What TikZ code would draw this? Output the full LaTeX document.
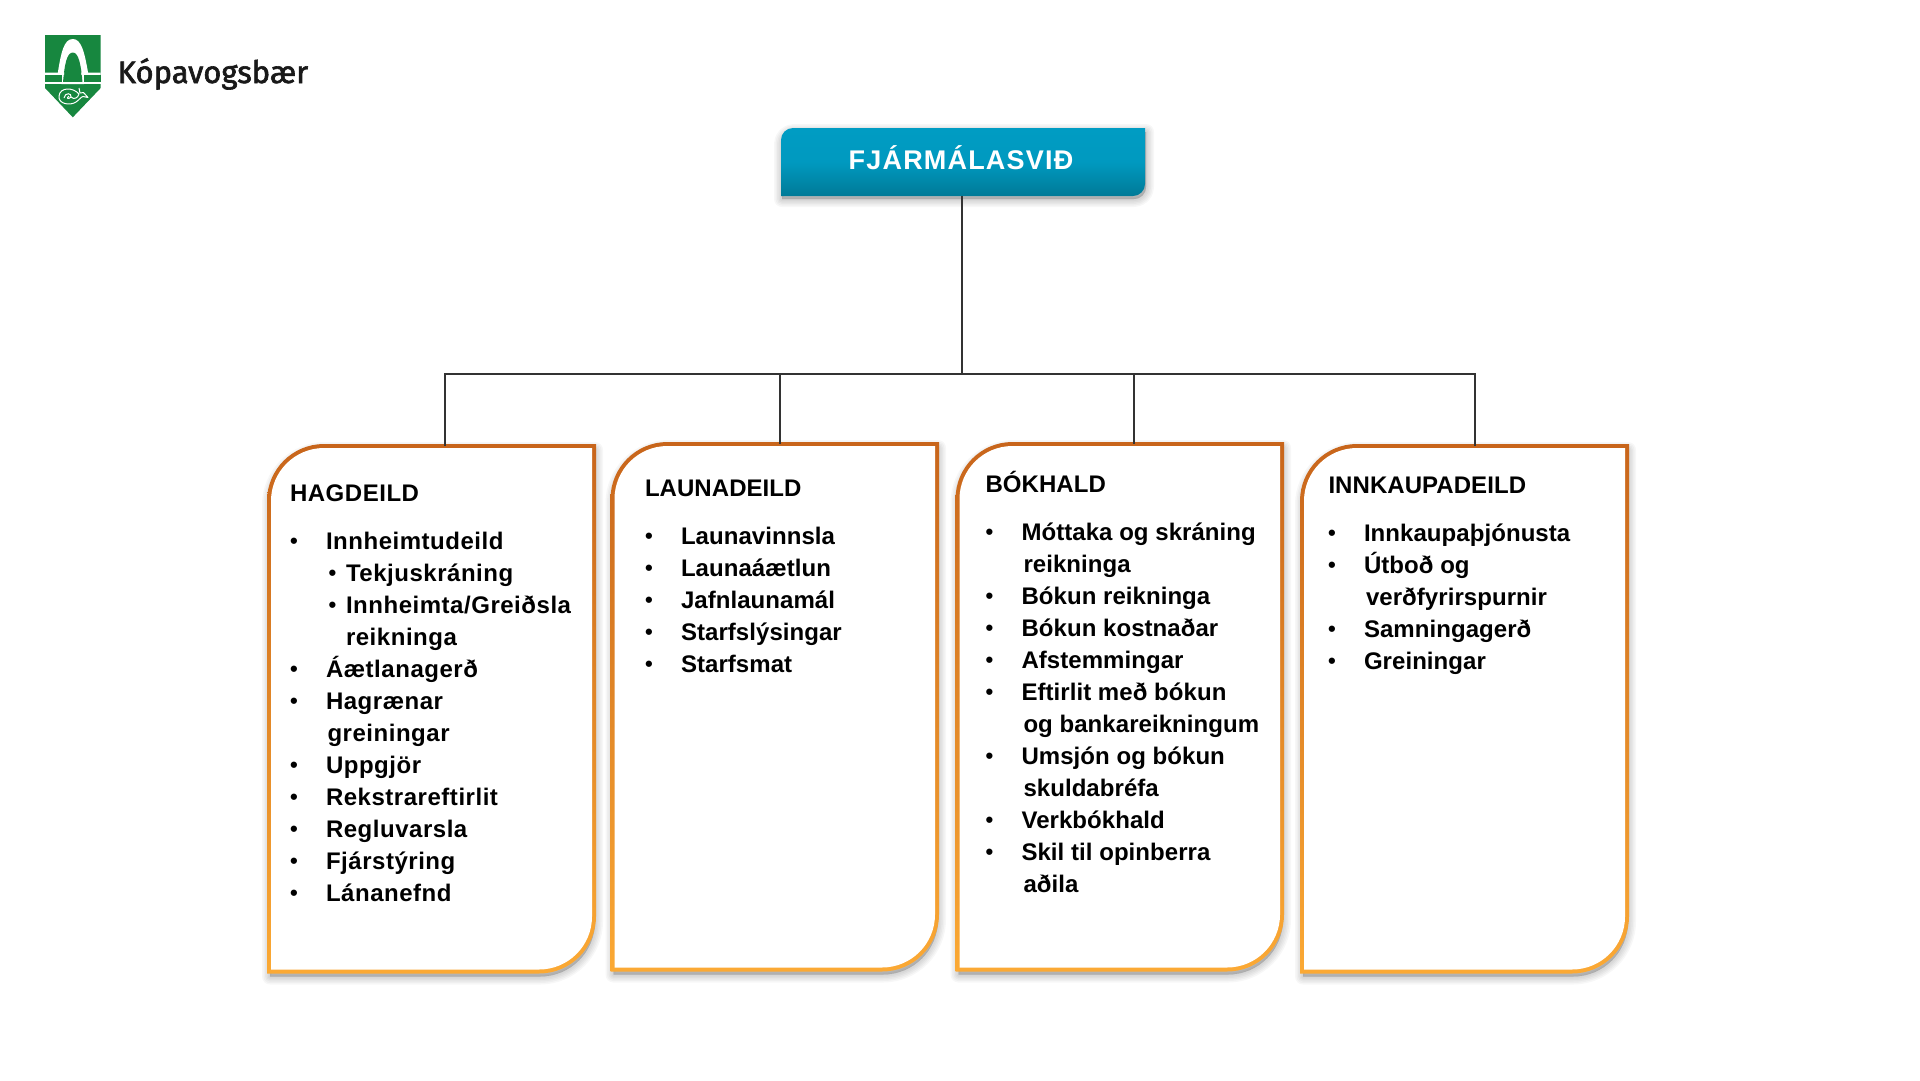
\documentclass[tikz,border=0pt]{standalone}
\usepackage{fontspec}
\setmainfont{Liberation Sans}
\newfontfamily\bodyf[LetterSpace=2.2]{Liberation Sans}
\newfontfamily\tightf[LetterSpace=0.25]{Liberation Sans}
\newfontfamily\titlef[LetterSpace=4.4]{Liberation Sans}
\newfontfamily\logof[FakeBold=2]{Fira Sans}
\definecolor{shieldgreen}{HTML}{17873F}
\definecolor{cardtop}{HTML}{C8651B}
\definecolor{cardbot}{HTML}{FBA934}
\definecolor{headtop}{HTML}{009CC3}
\definecolor{headbot}{HTML}{007A97}
\definecolor{wire}{HTML}{333333}
\tikzset{
  txt/.style={anchor=base west,inner sep=0pt,outer sep=0pt,font=\bodyf\bfseries\fontsize{24}{24}\selectfont,text=black},
  tgt/.style={anchor=base west,inner sep=0pt,outer sep=0pt,font=\tightf\bfseries\fontsize{24}{24}\selectfont,text=black},
  bul/.style={anchor=base,inner sep=0pt,outer sep=0pt,font=\bfseries\fontsize{22}{22}\selectfont,text=black},
  wireline/.style={draw=wire,line width=2pt},
}
% shape with top-left and bottom-right rounded
\newcommand{\twocorner}[5]{(#1,#4) [rounded corners=#5 pt] -- (#1,#2) [sharp corners] -- (#3,#2) [rounded corners=#5 pt] -- (#3,#4) [sharp corners] -- cycle}
\newcommand{\softshadow}[5]{%
  \foreach \w in {16,13,10,7,4,1}{%
    \draw[black,opacity=.03,line width=\w pt,line join=round,fill=black,fill opacity=.03]
      \twocorner{#1+1}{#2+4}{#3+1}{#4+5}{#5};}}
\newcommand{\card}[5]{%
  \softshadow{#2}{#3}{#4}{#5}{55}
  \shade[top color=cardtop,bottom color=cardbot] \twocorner{#2-2}{#3-2}{#4+2}{#5+2}{57};
  \fill[white] \twocorner{#2+2}{#3+2}{#4-2}{#5-2}{53};
  \node[inner sep=0pt,outer sep=0pt,minimum width={(#4-#2)*1pt},minimum height={(#5-#3)*1pt}] (#1) at ({(#2+#4)/2},{(#3+#5)/2}) {};}
\newcommand{\blitem}[4]{%
  \node[bul] (#1b) at (#2-32,#3-.6) {•};
  \node[txt] (#1) at (#2,#3) {#4};}
\newcommand{\blitemt}[4]{%
  \node[bul] (#1b) at (#2-32,#3-.6) {•};
  \node[tgt] (#1) at (#2,#3) {#4};}
\newcommand{\subentry}[4]{%
  \node[bul] (#1b) at (#2-13.5,#3-.6) {•};
  \node[txt] (#1) at (#2,#3) {#4};}
\begin{document}
\begin{tikzpicture}[x=1pt,y=-1pt]
\useasboundingbox (0,0) rectangle (1920,1080);
\fill[white] (0,0) rectangle (1920,1080);

% logo
\fill[shieldgreen] (45,35) -- (100.7,35) -- (100.7,88) -- (72.8,117.3) -- (45,88) -- cycle;
\fill[white] (57.5,75) .. controls (61,52) and (64,39) .. (72.8,39) .. controls (81.5,39) and (84.5,52) .. (88.5,75) -- (84,84) -- (61.5,84) -- cycle;
\fill[shieldgreen] (63,82.5) .. controls (64.5,64) and (67,52.5) .. (72.8,52.5) .. controls (78.5,52.5) and (81,64) .. (82.5,82.5) -- cycle;
\fill[white] (45,72.5) -- (64.3,72.5) -- (64.1,75) -- (45,75) -- cycle;
\fill[white] (81.2,72.5) -- (100.7,72.5) -- (100.7,75) -- (81.4,75) -- cycle;
\fill[shieldgreen] (45,75) rectangle (61.5,82.2);
\fill[shieldgreen] (84,75) rectangle (100.7,82.2);
\fill[white] (45,82.2) -- (100.7,82.2) -- (100.7,84.2) -- (45,84.2) -- cycle;
\draw[white,line width=1pt,line join=round] (79,94) .. controls (73,87) and (60,87) .. (59,96) .. controls (58,104) and (70,106) .. (76,102) .. controls (79,100) and (81,97) .. (83,96.5) -- (88,97.5) -- (83.5,92.5) -- (80,93) -- (79,88);
\draw[white,line width=1pt] (64,98) .. controls (65,92) and (72,93) .. (71,97) .. controls (68,100) and (66,98) .. (69,96);
\draw[white,line width=1pt] (71,97) .. controls (74,100) and (78,98) .. (79,94);

\node[anchor=base west,inner sep=0pt,font=\logof\fontsize{31}{31}\selectfont,text=black!90] (brand) at (117.5,83) {Kópavogsbær};

% title
\foreach \w in {16,13,10,7,4,1}{%
  \draw[black,opacity=.03,line width=\w pt,line join=round,fill=black,fill opacity=.03] \twocorner{782}{132}{1146}{199}{12};}
\shade[top color=headtop,bottom color=headbot,middle color=headtop!92!headbot] \twocorner{781}{128}{1145}{196}{12};
\node[anchor=base,inner sep=0pt,font=\titlef\bfseries\fontsize{27}{27}\selectfont,text=white] (title) at (961,169) {FJÁRMÁLASVIÐ};
\coordinate (titlebot) at (962,196);

% cards
\card{c1}{269}{446}{594}{971.5}
\card{c2}{612.5}{444}{937}{969.5}
\card{c3}{957.5}{444}{1282}{969.5}
\card{c4}{1302}{446}{1627}{971.5}

% connectors
\coordinate (busmid) at (962,374);
\coordinate (bus1) at (445,374);
\coordinate (bus2) at (780,374);
\coordinate (bus3) at (1134,374);
\coordinate (bus4) at (1475,374);
\draw[wireline] (titlebot) -- (busmid);
\draw[wireline,line cap=rect] (bus1) -- (bus4);
\draw[wireline] (bus1) -- (bus1 |- c1.north);
\draw[wireline] (bus2) -- (bus2 |- c2.north);
\draw[wireline] (bus3) -- (bus3 |- c3.north);
\draw[wireline] (bus4) -- (bus4 |- c4.north);

% card 1
\node[txt] (h1) at (290,501) {HAGDEILD};
\blitem{a1}{326}{549}{Innheimtudeild}
\subentry{a2}{346}{581}{Tekjuskráning}
\subentry{a3}{346}{613}{Innheimta/Greiðsla}
\node[txt] (a4) at (346,645) {reikninga};
\blitem{a5}{326}{677}{Áætlanagerð}
\blitem{a6}{326}{709}{Hagrænar}
\node[txt] (a7) at (327.5,741) {greiningar};
\blitem{a8}{326}{773}{Uppgjör}
\blitem{a9}{326}{805}{Rekstrareftirlit}
\blitem{a10}{326}{837}{Regluvarsla}
\blitem{a11}{326}{869}{Fjárstýring}
\blitem{a12}{326}{901}{Lánanefnd}

% card 2
\node[tgt] (h2) at (645,496.5) {LAUNADEILD};
\blitemt{b1}{681}{544}{Launavinnsla}
\blitemt{b2}{681}{576}{Launaáætlun}
\blitemt{b3}{681}{608}{Jafnlaunamál}
\blitemt{b4}{681}{640}{Starfslýsingar}
\blitemt{b5}{681}{672}{Starfsmat}

% card 3
\node[tgt] (h3) at (985.5,492.5) {BÓKHALD};
\blitemt{d1}{1021.5}{540.5}{Móttaka og skráning}
\node[tgt] (d2) at (1023.5,572.5) {reikninga};
\blitemt{d3}{1021.5}{604.5}{Bókun reikninga}
\blitemt{d4}{1021.5}{636.5}{Bókun kostnaðar}
\blitemt{d5}{1021.5}{668.5}{Afstemmingar}
\blitemt{d6}{1021.5}{700.5}{Eftirlit með bókun}
\node[tgt] (d7) at (1023.5,732.5) {og bankareikningum};
\blitemt{d8}{1021.5}{764.5}{Umsjón og bókun}
\node[tgt] (d9) at (1023.5,796.5) {skuldabréfa};
\blitemt{d10}{1021.5}{828.5}{Verkbókhald}
\blitemt{d11}{1021.5}{860.5}{Skil til opinberra}
\node[tgt] (d12) at (1023.5,892.5) {aðila};

% card 4
\node[tgt] (h4) at (1328.5,493) {INNKAUPADEILD};
\blitemt{e1}{1364}{541.5}{Innkaupaþjónusta}
\blitemt{e2}{1364}{573.5}{Útboð og}
\node[tgt] (e3) at (1366,605.5) {verðfyrirspurnir};
\blitemt{e4}{1364}{637.5}{Samningagerð}
\blitemt{e5}{1364}{669.5}{Greiningar}
\end{tikzpicture}
\end{document}
